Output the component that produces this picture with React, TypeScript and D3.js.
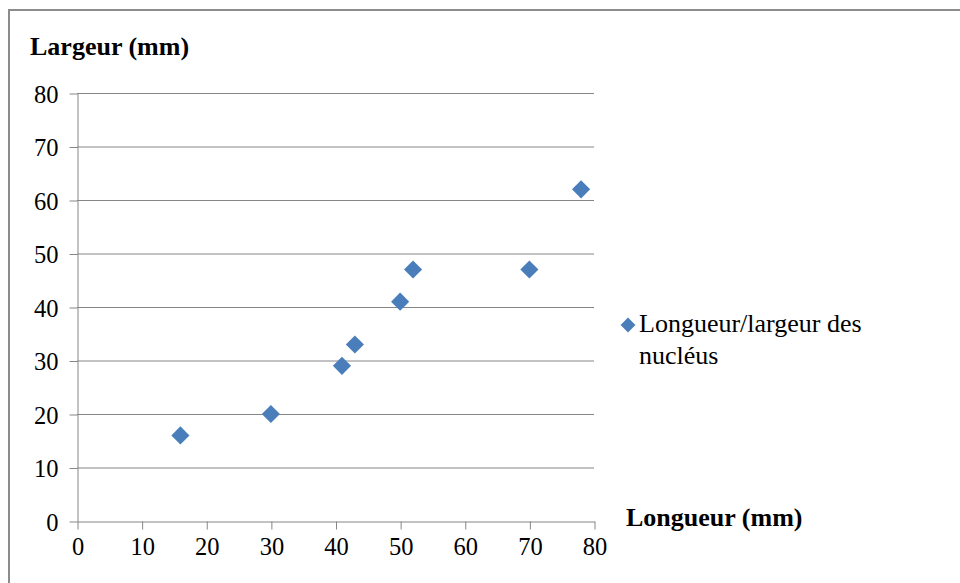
import * as d3 from "d3";
import { useEffect, useRef } from "react";

const longueur = [16, 30, 41, 43, 50, 52, 70, 78];
const largeur = [16, 20, 29, 33, 41, 47, 47, 62];
const xTicks = [0, 10, 20, 30, 40, 50, 60, 70, 80];
const yTicks = [0, 10, 20, 30, 40, 50, 60, 70, 80];
const seriesName = ["Longueur/largeur des", "nucléus"];

const W = 960;
const H = 583;
const font = "Liberation Serif, Times New Roman, serif";
const grey = "#868686";
const blue = "#4a7ebb";

const App = () => {
  const ref = useRef<SVGSVGElement>(null);

  useEffect(() => {
    const svg = d3.select(ref.current);
    svg.selectAll("*").remove();
    svg.style("font-family", font);

    const x = d3.scaleLinear().domain([0, 80]).range([77, 594]);
    const y = d3.scaleLinear().domain([0, 80]).range([521, 93]);

    // outer frame
    svg.append("rect").attr("x", 9).attr("y", 10).attr("width", 1000).attr("height", 1000)
      .attr("fill", "white").attr("stroke", "#8c8c8c").attr("stroke-width", 2);

    // gridlines
    svg.append("g").selectAll("line").data(yTicks.filter(d => d > 0)).join("line")
      .attr("x1", x(0)).attr("x2", x(80))
      .attr("y1", d => y(d) + 0.5).attr("y2", d => y(d) + 0.5)
      .attr("stroke", grey).attr("stroke-width", 1);

    const yAxis = d3.axisLeft(y).tickValues(yTicks).tickSize(8).tickPadding(11).tickSizeOuter(0);
    const gy = svg.append("g").attr("transform", `translate(${x(0) + 0.5},0.5)`).call(yAxis);
    const xAxis = d3.axisBottom(x).tickValues(xTicks).tickSize(8).tickPadding(8).tickSizeOuter(0);
    const gx = svg.append("g").attr("transform", `translate(0.5,${y(0) + 0.5})`).call(xAxis);

    [gx, gy].forEach(g => {
      g.attr("font-family", null).attr("font-size", null);
      g.selectAll("path, line").attr("stroke", grey);
      g.selectAll("text").style("font-family", font).style("font-size", "24.5px").attr("fill", "#000");
    });
    gy.selectAll("text").attr("dy", "0.35em");

    // points
    const diamond = d3.symbol().type(d3.symbolDiamond2).size(210);
    svg.append("g").selectAll("path").data(longueur).join("path")
      .attr("d", diamond)
      .attr("transform", (d, i) => `translate(${x(d)},${y(largeur[i])})`)
      .attr("fill", blue);

    // axis titles
    svg.append("text").attr("x", 30).attr("y", 55).text("Largeur (mm)")
      .style("font-family", font).style("font-size", "26px").style("font-weight", "bold");
    svg.append("text").attr("x", 626).attr("y", 526).text("Longueur (mm)")
      .style("font-family", font).style("font-size", "26px").style("font-weight", "bold");

    // legend
    svg.append("path").attr("d", d3.symbol().type(d3.symbolDiamond2).size(140))
      .attr("transform", "translate(628,325)").attr("fill", blue);
    svg.append("g").selectAll("text").data(seriesName).join("text")
      .attr("x", 639).attr("y", (d, i) => 332 + i * 32).text(d => d)
      .style("font-family", font).style("font-size", "26px");
  }, []);

  return (
    <svg ref={ref} width={W} height={H}
      style={{ position: "absolute", left: 0, top: 0, background: "white" }} />
  );
};

export default App;
